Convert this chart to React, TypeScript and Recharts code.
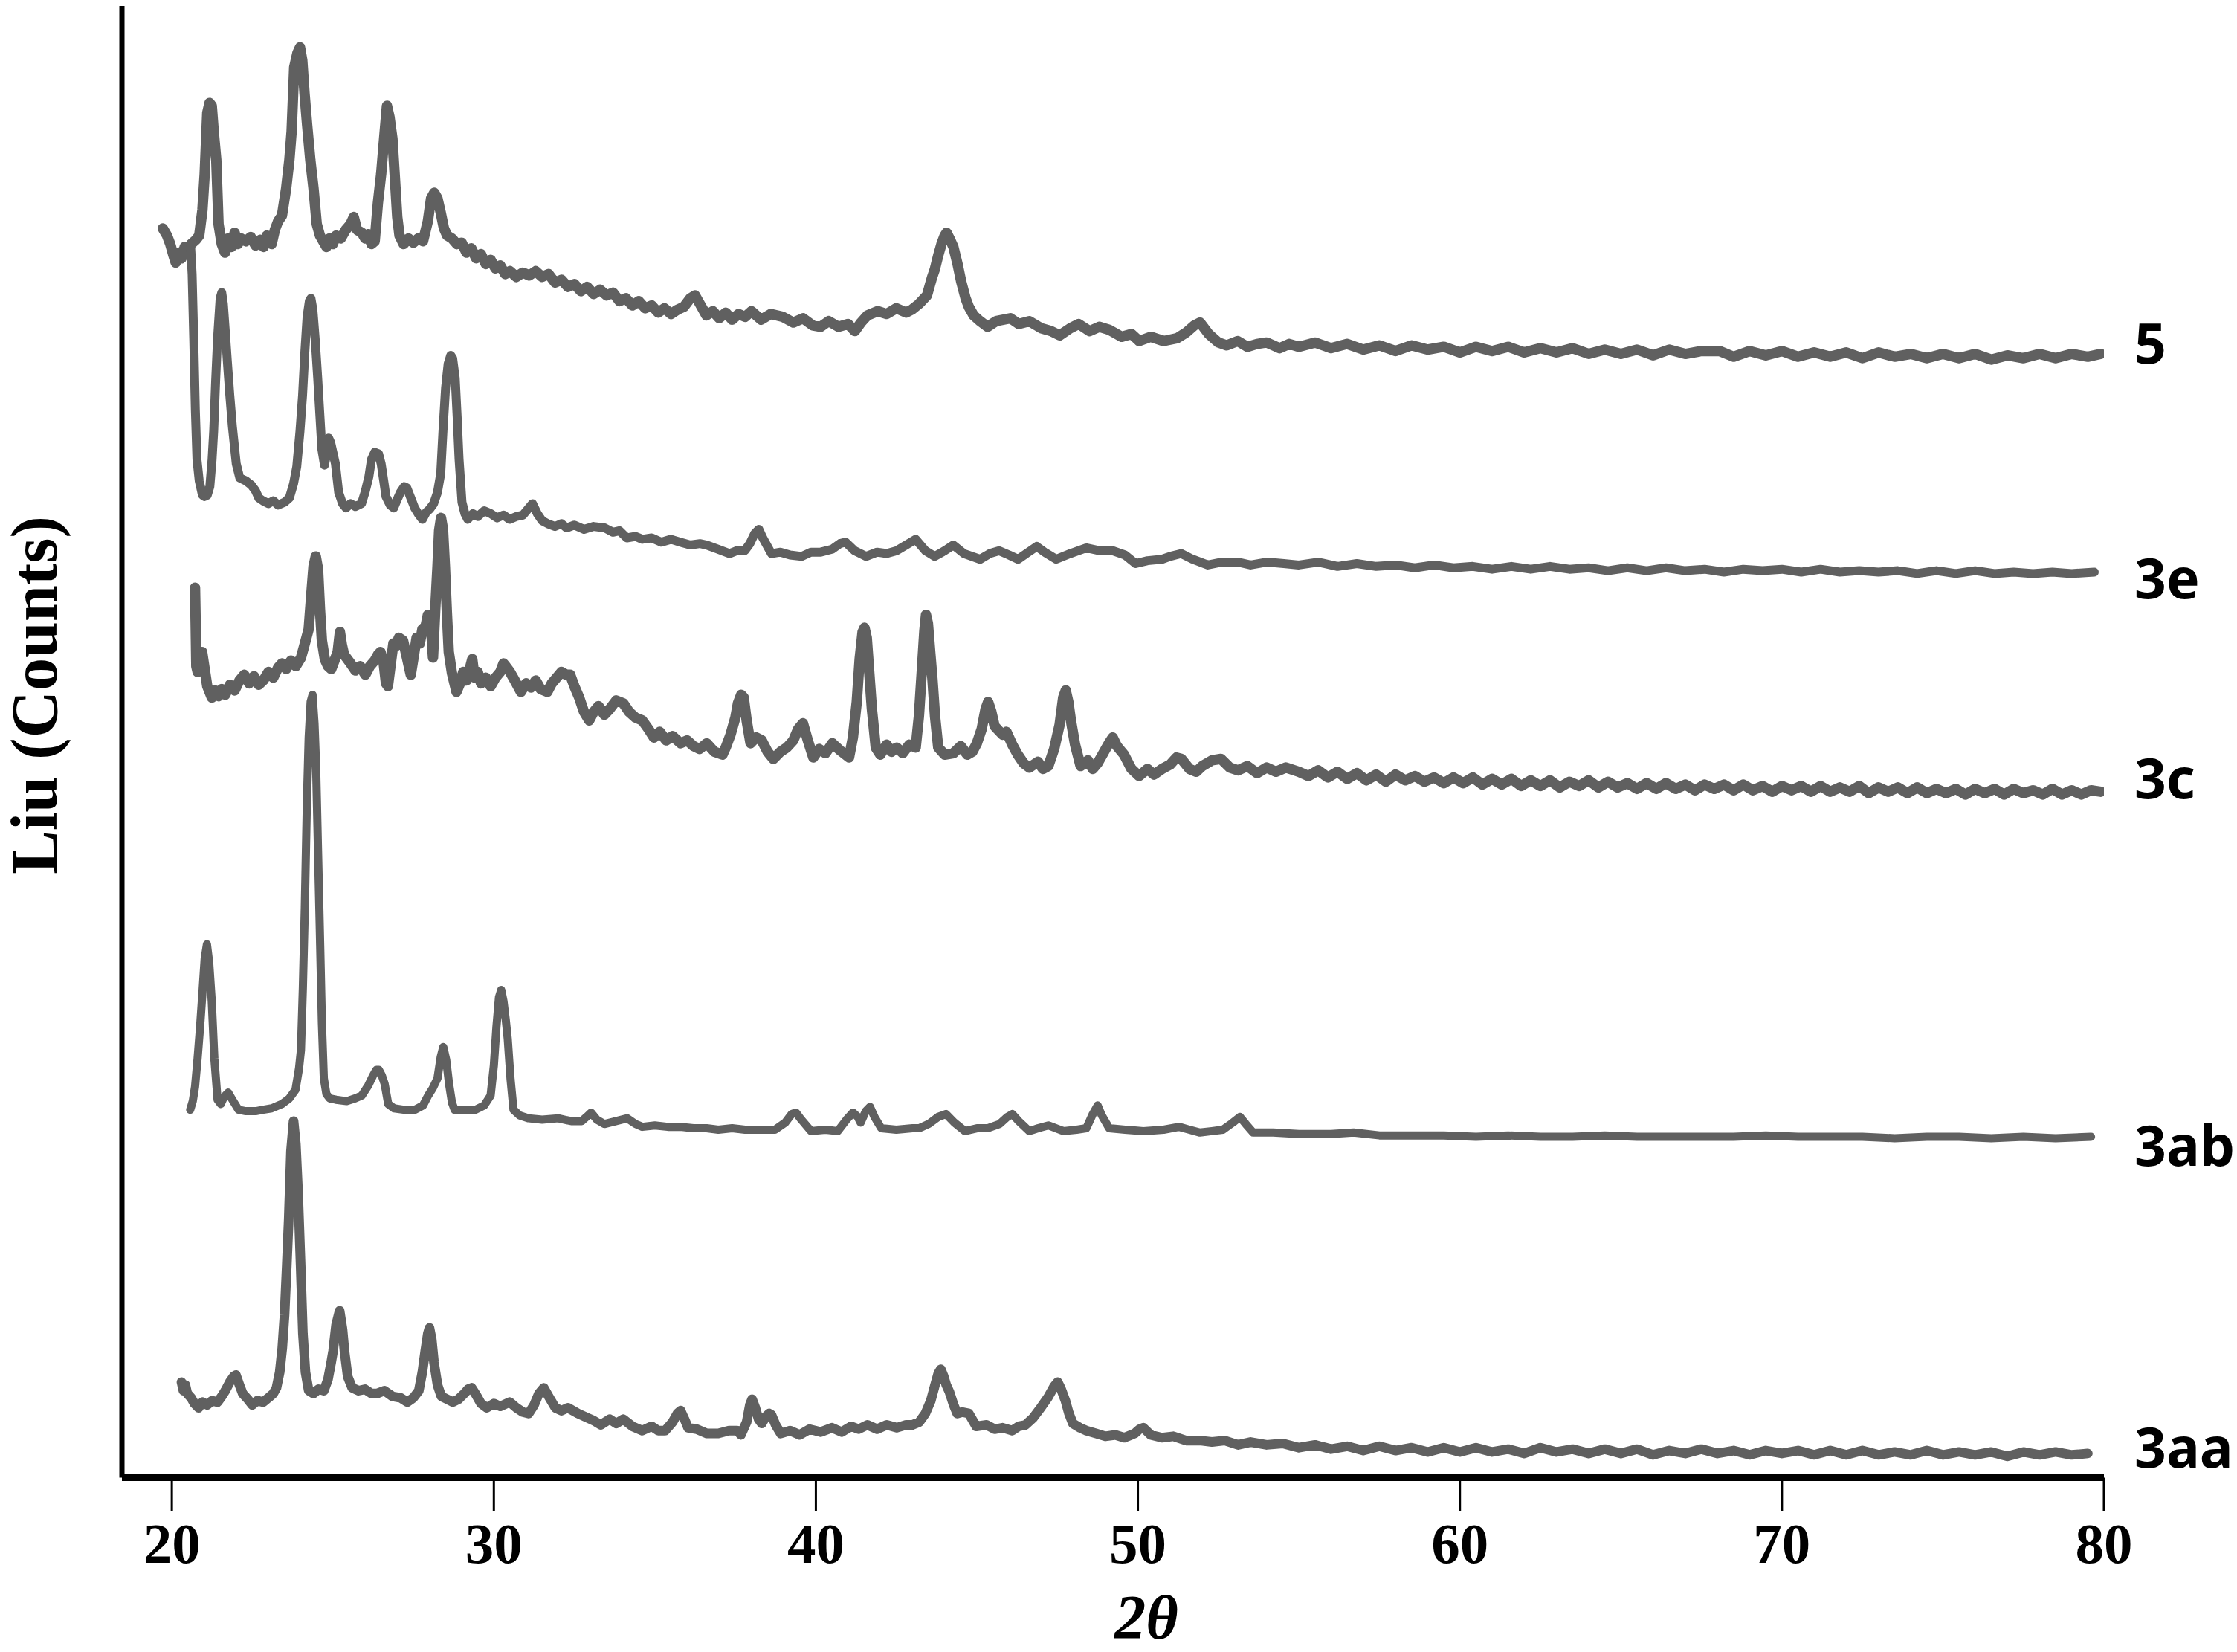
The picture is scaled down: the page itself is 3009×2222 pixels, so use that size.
import { LineChart, Line, XAxis, YAxis } from 'recharts'

// 2θ ticks along the bottom axis
const X_TICKS = [20, 30, 40, 50, 60, 70, 80]

// intensity (a.u.), [2θ, counts]
const PATTERN_5: [number, number][] = [
  [19.72, 877], [19.85, 872], [19.95, 866], [20.05, 858], [20.12, 853], [20.22, 860], [20.3, 856], [20.4, 864],
  [20.5, 862], [20.6, 866], [20.75, 869], [20.85, 872], [20.95, 890], [21.02, 915], [21.1, 958], [21.17, 965],
  [21.24, 963], [21.3, 945], [21.38, 925], [21.45, 880], [21.55, 866], [21.65, 860], [21.75, 870], [21.85, 864],
  [21.95, 874], [22.05, 866], [22.15, 870], [22.3, 868], [22.45, 871], [22.6, 865], [22.75, 869], [22.85, 864],
  [22.95, 872], [23.1, 866], [23.2, 876], [23.3, 882], [23.42, 886], [23.55, 905], [23.65, 925], [23.72, 945],
  [23.8, 990], [23.9, 1000], [23.98, 1004], [24.05, 995], [24.12, 972], [24.2, 950], [24.3, 925], [24.4, 905],
  [24.5, 880], [24.6, 872], [24.7, 868], [24.8, 864], [24.9, 870], [25.0, 866], [25.1, 872], [25.25, 870],
  [25.4, 876], [25.55, 880], [25.65, 885], [25.75, 876], [25.9, 874], [26.0, 870], [26.1, 873], [26.2, 866],
  [26.3, 868], [26.4, 895], [26.5, 915], [26.6, 942], [26.68, 963], [26.76, 955], [26.85, 940], [26.92, 915],
  [27.0, 885], [27.07, 872], [27.2, 866], [27.35, 870], [27.5, 867], [27.65, 870], [27.8, 868], [27.95, 882],
  [28.05, 898], [28.15, 902], [28.25, 898], [28.35, 888], [28.45, 877], [28.55, 872], [28.7, 870], [28.85, 866],
  [29.0, 867], [29.15, 860], [29.3, 863], [29.45, 856], [29.6, 859], [29.75, 852], [29.9, 855], [30.05, 849],
  [30.2, 851], [30.35, 845], [30.5, 847], [30.7, 843], [30.9, 846], [31.1, 844], [31.3, 847], [31.5, 843],
  [31.7, 845], [31.9, 839], [32.1, 841], [32.3, 836], [32.5, 838], [32.7, 833], [32.9, 836], [33.1, 831],
  [33.3, 834], [33.5, 830], [33.7, 832], [33.9, 826], [34.1, 828], [34.3, 823], [34.5, 826], [34.7, 821],
  [34.9, 823], [35.1, 818], [35.3, 821], [35.5, 817], [35.7, 820], [35.9, 822], [36.1, 828], [36.25, 830],
  [36.4, 824], [36.6, 816], [36.8, 819], [37.0, 814], [37.2, 818], [37.4, 813], [37.6, 817], [37.8, 815],
  [38.0, 819], [38.3, 813], [38.6, 817], [38.97, 815], [39.3, 811], [39.6, 814], [39.9, 809], [40.15, 808],
  [40.4, 812], [40.7, 808], [41.0, 810], [41.21, 805], [41.4, 811], [41.6, 816], [41.92, 819], [42.2, 817],
  [42.5, 821], [42.8, 818], [42.98, 820], [43.2, 824], [43.45, 830], [43.6, 842], [43.69, 848], [43.8, 858],
  [43.9, 866], [44.0, 872], [44.06, 874], [44.15, 870], [44.27, 864], [44.4, 852], [44.51, 840], [44.65, 828],
  [44.75, 822], [44.9, 816], [45.1, 812], [45.33, 808], [45.6, 812], [46.04, 814], [46.3, 810], [46.63, 812],
  [47.0, 807], [47.3, 805], [47.57, 802], [47.9, 807], [48.16, 810], [48.5, 805], [48.8, 808], [49.1, 806],
  [49.5, 801], [49.8, 803], [50.04, 798], [50.4, 801], [50.8, 798], [51.22, 800], [51.5, 804], [51.75, 809],
  [51.93, 811], [52.2, 803], [52.5, 797], [52.76, 795], [53.1, 798], [53.4, 794], [53.7, 796], [54.0, 797],
  [54.4, 793], [54.7, 796], [55.0, 794], [55.5, 797], [56.0, 793], [56.5, 796], [57.0, 792], [57.5, 795],
  [58.0, 791], [58.5, 795], [59.0, 792], [59.5, 794], [60.0, 790], [60.5, 794], [61.0, 791], [61.5, 794],
  [62.0, 790], [62.5, 793], [63.0, 790], [63.5, 793], [64.0, 789], [64.5, 792], [65.0, 789], [65.5, 792],
  [66.0, 788], [66.5, 792], [67.0, 789], [67.5, 791], [68.07, 791], [68.5, 787], [69.0, 791], [69.5, 788],
  [70.0, 791], [70.5, 787], [71.0, 790], [71.5, 787], [72.0, 790], [72.5, 786], [73.0, 790], [73.5, 787],
  [74.0, 789], [74.5, 786], [75.0, 789], [75.5, 786], [76.0, 789], [76.5, 785], [77.0, 788], [77.5, 786],
  [78.0, 789], [78.5, 786], [79.0, 789], [79.5, 787], [79.9, 789],
]

const PATTERN_3E: [number, number][] = [
  [20.58, 866], [20.63, 845], [20.68, 800], [20.73, 750], [20.78, 715], [20.85, 700], [20.95, 690], [21.02, 689],
  [21.1, 690], [21.18, 696], [21.25, 715], [21.3, 735], [21.36, 770], [21.42, 800], [21.5, 828], [21.55, 832],
  [21.6, 824], [21.66, 805], [21.72, 785], [21.8, 760], [21.88, 738], [22.0, 712], [22.11, 702], [22.3, 700],
  [22.47, 697], [22.6, 693], [22.7, 688], [22.83, 686], [23.0, 684], [23.15, 686], [23.3, 683], [23.5, 685],
  [23.65, 688], [23.78, 698], [23.88, 710], [23.98, 735], [24.06, 760], [24.13, 790], [24.2, 815], [24.27, 826],
  [24.32, 828], [24.38, 820], [24.45, 800], [24.53, 772], [24.6, 745], [24.66, 722], [24.74, 711], [24.8, 718],
  [24.87, 730], [24.93, 727], [25.0, 720], [25.08, 712], [25.18, 692], [25.3, 684], [25.41, 681], [25.55, 684],
  [25.7, 682], [25.89, 684], [26.0, 692], [26.12, 703], [26.2, 715], [26.3, 720], [26.42, 719], [26.5, 712],
  [26.58, 700], [26.65, 689], [26.78, 683], [26.89, 681], [27.0, 687], [27.1, 692], [27.22, 696], [27.3, 695],
  [27.42, 688], [27.54, 681], [27.65, 677], [27.78, 673], [27.9, 678], [28.0, 680], [28.13, 684], [28.25, 692],
  [28.35, 705], [28.42, 735], [28.5, 765], [28.58, 782], [28.66, 788], [28.72, 786], [28.8, 772], [28.86, 745],
  [28.92, 715], [29.01, 685], [29.1, 677], [29.19, 673], [29.35, 677], [29.5, 675], [29.7, 679], [29.9, 677],
  [30.1, 674], [30.3, 676], [30.49, 673], [30.7, 675], [30.9, 676], [31.05, 680], [31.2, 684], [31.35, 677],
  [31.5, 672], [31.67, 670], [31.9, 668], [32.1, 670], [32.26, 667], [32.5, 669], [32.8, 666], [33.1, 668],
  [33.44, 667], [33.7, 664], [33.9, 665], [34.13, 660], [34.4, 661], [34.61, 659], [34.9, 660], [35.2, 657],
  [35.5, 659], [35.79, 657], [36.1, 655], [36.4, 656], [36.61, 655], [36.97, 652], [37.32, 649], [37.55, 651],
  [37.79, 651], [37.95, 656], [38.1, 663], [38.23, 666], [38.35, 660], [38.62, 649], [38.9, 650], [39.2, 648],
  [39.56, 647], [39.85, 650], [40.15, 650], [40.5, 652], [40.75, 656], [40.92, 657], [41.2, 651], [41.56, 647],
  [41.9, 650], [42.2, 649], [42.51, 651], [42.8, 655], [43.1, 659], [43.4, 651], [43.69, 647], [44.0, 651],
  [44.27, 655], [44.6, 649], [45.1, 645], [45.4, 649], [45.69, 651], [46.0, 648], [46.28, 645], [46.6, 650],
  [46.86, 654], [47.1, 650], [47.46, 645], [47.9, 649], [48.4, 653], [48.8, 651], [49.22, 651], [49.6, 648],
  [49.93, 642], [50.3, 644], [50.75, 645], [51.0, 647], [51.35, 649], [51.7, 645], [52.17, 641], [52.6, 643],
  [53.11, 643], [53.5, 641], [54.0, 643], [54.53, 642], [55.0, 641], [55.6, 643], [56.2, 640], [56.8, 642],
  [57.4, 640], [58.0, 641], [58.6, 639], [59.2, 641], [59.8, 639], [60.4, 640], [61.0, 638], [61.6, 640],
  [62.2, 638], [62.8, 640], [63.4, 638], [64.0, 639], [64.6, 637], [65.2, 639], [65.8, 637], [66.4, 639],
  [67.0, 637], [67.6, 638], [68.2, 636], [68.8, 638], [69.4, 637], [70.0, 638], [70.6, 636], [71.2, 638],
  [71.8, 636], [72.4, 637], [73.0, 636], [73.6, 637], [74.2, 635], [74.8, 637], [75.4, 635], [76.0, 637],
  [76.6, 635], [77.2, 636], [77.8, 635], [78.4, 636], [79.0, 635], [79.7, 636],
]

const PATTERN_3C: [number, number][] = [
  [20.72, 625], [20.74, 600], [20.76, 570], [20.8, 566], [20.88, 575], [20.94, 580], [21.02, 568], [21.1, 556],
  [21.24, 548], [21.35, 553], [21.45, 549], [21.55, 554], [21.66, 550], [21.8, 557], [21.95, 553], [22.1, 560],
  [22.25, 564], [22.4, 558], [22.55, 563], [22.7, 557], [22.84, 560], [23.0, 566], [23.15, 562], [23.3, 569],
  [23.42, 572], [23.55, 568], [23.7, 574], [23.85, 570], [24.01, 576], [24.12, 585], [24.25, 596], [24.33, 620],
  [24.4, 640], [24.47, 647], [24.54, 638], [24.6, 610], [24.66, 588], [24.75, 575], [24.85, 570], [24.95, 568],
  [25.05, 574], [25.15, 580], [25.22, 594], [25.28, 585], [25.35, 578], [25.42, 576], [25.55, 572], [25.7, 567],
  [25.85, 570], [26.01, 564], [26.15, 570], [26.3, 574], [26.4, 578], [26.48, 580], [26.58, 572], [26.65, 558],
  [26.71, 556], [26.8, 572], [26.88, 586], [26.95, 584], [27.05, 590], [27.18, 588], [27.3, 576], [27.42, 564],
  [27.52, 578], [27.6, 590], [27.7, 586], [27.78, 596], [27.88, 598], [27.95, 606], [28.02, 604], [28.07, 590],
  [28.11, 576], [28.18, 610], [28.25, 640], [28.3, 665], [28.36, 674], [28.42, 666], [28.48, 640], [28.54, 608],
  [28.6, 580], [28.7, 565], [28.84, 552], [28.95, 558], [29.05, 566], [29.15, 560], [29.25, 568], [29.33, 575],
  [29.4, 562], [29.5, 566], [29.6, 558], [29.75, 562], [29.9, 556], [30.05, 562], [30.2, 566], [30.3, 572],
  [30.37, 570], [30.5, 566], [30.65, 560], [30.84, 552], [31.0, 558], [31.15, 555], [31.3, 560], [31.45, 554],
  [31.66, 552], [31.8, 558], [31.95, 562], [32.1, 566], [32.25, 564], [32.37, 564], [32.5, 556], [32.65, 548],
  [32.8, 538], [32.96, 532], [33.1, 538], [33.25, 542], [33.43, 536], [33.6, 540], [33.8, 546], [34.02, 544],
  [34.2, 538], [34.4, 534], [34.61, 532], [34.8, 526], [34.97, 520], [35.15, 524], [35.35, 518], [35.55, 521],
  [35.8, 516], [36.0, 518], [36.2, 514], [36.39, 512], [36.61, 516], [36.85, 510], [37.1, 508], [37.2, 513],
  [37.35, 522], [37.5, 534], [37.58, 544], [37.68, 550], [37.76, 548], [37.85, 532], [37.97, 516], [38.15, 520],
  [38.32, 518], [38.5, 510], [38.68, 505], [38.9, 510], [39.1, 513], [39.3, 518], [39.45, 526], [39.6, 530],
  [39.75, 518], [39.92, 506], [40.1, 512], [40.3, 509], [40.51, 516], [40.75, 511], [41.03, 506], [41.15, 520],
  [41.27, 545], [41.36, 575], [41.45, 594], [41.51, 597], [41.58, 590], [41.65, 568], [41.74, 540], [41.86, 513],
  [42.0, 508], [42.2, 515], [42.35, 510], [42.51, 513], [42.7, 509], [42.9, 515], [43.1, 513], [43.2, 535],
  [43.3, 570], [43.37, 595], [43.42, 606], [43.48, 600], [43.55, 580], [43.62, 561], [43.7, 535], [43.8, 513],
  [44.0, 508], [44.27, 509], [44.5, 514], [44.7, 508], [44.86, 510], [45.0, 516], [45.15, 526], [45.27, 540],
  [45.35, 545], [45.45, 538], [45.55, 528], [45.63, 526], [45.8, 522], [45.92, 524], [46.1, 515], [46.27, 508],
  [46.45, 502], [46.63, 499], [46.9, 503], [47.05, 498], [47.22, 500], [47.4, 512], [47.57, 529], [47.68, 548],
  [47.76, 553], [47.84, 545], [47.92, 532], [48.05, 515], [48.22, 500], [48.45, 504], [48.6, 498], [48.75, 502],
  [48.95, 510], [49.1, 516], [49.22, 520], [49.35, 514], [49.57, 508], [49.8, 498], [50.04, 493], [50.3, 498],
  [50.5, 494], [50.75, 498], [51.0, 501], [51.2, 506], [51.35, 505], [51.6, 498], [51.81, 496], [52.0, 500],
  [52.3, 504], [52.58, 505], [52.85, 499], [53.11, 497], [53.4, 500], [53.7, 495], [54.0, 499], [54.29, 496],
  [54.6, 499], [55.0, 496], [55.3, 493], [55.6, 497], [55.9, 492], [56.2, 496], [56.5, 491], [56.8, 495],
  [57.1, 490], [57.4, 494], [57.7, 489], [58.0, 494], [58.3, 490], [58.6, 493], [58.9, 489], [59.2, 492],
  [59.5, 488], [59.8, 492], [60.1, 488], [60.4, 492], [60.7, 487], [61.0, 491], [61.3, 487], [61.6, 491],
  [61.9, 486], [62.2, 490], [62.5, 486], [62.8, 490], [63.1, 485], [63.4, 489], [63.7, 486], [64.0, 490],
  [64.3, 485], [64.6, 489], [64.9, 485], [65.2, 488], [65.5, 484], [65.8, 488], [66.1, 484], [66.4, 488],
  [66.7, 484], [67.0, 487], [67.3, 483], [67.6, 487], [67.9, 484], [68.2, 487], [68.5, 483], [68.8, 487],
  [69.1, 483], [69.4, 486], [69.7, 482], [70.0, 486], [70.3, 483], [70.6, 486], [70.9, 482], [71.2, 486],
  [71.5, 482], [71.8, 485], [72.1, 482], [72.4, 486], [72.7, 481], [73.0, 485], [73.3, 482], [73.6, 485],
  [73.9, 481], [74.2, 485], [74.5, 481], [74.8, 484], [75.1, 481], [75.4, 484], [75.7, 480], [76.0, 484],
  [76.3, 481], [76.6, 484], [76.9, 480], [77.2, 484], [77.5, 481], [77.8, 483], [78.1, 480], [78.4, 484],
  [78.7, 480], [79.0, 483], [79.3, 480], [79.6, 483], [79.9, 482],
]

const PATTERN_3AB: [number, number][] = [
  [20.57, 259], [20.65, 265], [20.72, 275], [20.8, 295], [20.88, 318], [20.95, 341], [21.02, 365], [21.09, 375],
  [21.16, 362], [21.24, 335], [21.32, 295], [21.42, 266], [21.52, 263], [21.62, 268], [21.75, 271], [21.88, 266],
  [22.07, 259], [22.3, 258], [22.6, 258], [22.84, 259], [23.1, 260], [23.42, 263], [23.65, 267], [23.84, 273],
  [23.95, 288], [24.01, 301], [24.07, 345], [24.13, 401], [24.19, 470], [24.25, 520], [24.31, 545], [24.37, 550],
  [24.43, 530], [24.48, 500], [24.54, 440], [24.6, 381], [24.66, 320], [24.72, 281], [24.8, 270], [24.9, 267],
  [25.1, 266], [25.43, 265], [25.7, 267], [25.9, 269], [26.1, 276], [26.25, 283], [26.35, 287], [26.43, 287],
  [26.52, 283], [26.61, 277], [26.72, 263], [26.9, 260], [27.2, 259], [27.55, 259], [27.8, 262], [27.96, 269],
  [28.1, 274], [28.25, 281], [28.35, 296], [28.43, 303], [28.52, 294], [28.61, 277], [28.7, 264], [28.78, 259],
  [29.1, 259], [29.43, 259], [29.7, 262], [29.9, 269], [30.0, 290], [30.08, 317], [30.16, 338], [30.23, 343],
  [30.3, 335], [30.37, 322], [30.43, 309], [30.52, 280], [30.61, 259], [30.8, 255], [31.08, 253], [31.5, 252],
  [32.0, 253], [32.4, 251], [32.73, 251], [32.88, 254], [33.02, 257], [33.2, 252], [33.43, 249], [33.8, 251],
  [34.14, 253], [34.4, 249], [34.61, 247], [35.0, 248], [35.4, 247], [35.8, 247], [36.2, 246], [36.61, 246],
  [36.97, 245], [37.4, 246], [37.8, 245], [38.2, 245], [38.73, 245], [39.05, 250], [39.25, 256], [39.38, 257],
  [39.55, 252], [39.85, 244], [40.3, 245], [40.68, 244], [40.95, 252], [41.15, 257], [41.3, 254], [41.39, 250],
  [41.55, 258], [41.68, 261], [41.82, 254], [42.03, 246], [42.5, 245], [43.0, 246], [43.21, 246], [43.5, 249],
  [43.8, 254], [44.04, 256], [44.3, 250], [44.63, 244], [45.0, 246], [45.33, 246], [45.7, 249], [45.95, 254],
  [46.1, 256], [46.3, 251], [46.63, 244], [46.9, 246], [47.22, 248], [47.69, 244], [48.1, 245], [48.4, 246],
  [48.6, 256], [48.75, 262], [48.88, 255], [49.11, 246], [49.6, 245], [50.17, 244], [50.8, 245], [51.28, 247],
  [51.6, 245], [51.93, 243], [52.3, 244], [52.64, 245], [52.95, 250], [53.17, 254], [53.35, 249], [53.58, 243],
  [54.2, 243], [55.0, 242], [56.0, 242], [56.7, 243], [57.5, 241], [58.5, 241], [59.5, 241], [60.5, 240],
  [61.5, 241], [62.5, 240], [63.5, 240], [64.5, 241], [65.5, 240], [66.5, 240], [67.5, 240], [68.5, 240],
  [69.5, 241], [70.5, 240], [71.5, 240], [72.5, 240], [73.5, 239], [74.5, 240], [75.5, 240], [76.5, 239],
  [77.5, 240], [78.5, 239], [79.6, 240],
]

const PATTERN_3AA: [number, number][] = [
  [20.3, 68], [20.36, 62], [20.42, 66], [20.48, 60], [20.6, 57], [20.7, 53], [20.83, 50], [20.95, 54],
  [21.1, 52], [21.25, 55], [21.42, 54], [21.55, 58], [21.66, 62], [21.8, 68], [21.92, 72], [21.99, 73],
  [22.1, 66], [22.2, 60], [22.36, 56], [22.5, 52], [22.65, 55], [22.84, 54], [23.0, 57], [23.15, 60],
  [23.25, 64], [23.35, 75], [23.43, 92], [23.5, 115], [23.57, 150], [23.63, 182], [23.7, 230], [23.78, 251],
  [23.85, 235], [23.92, 201], [24.0, 150], [24.07, 102], [24.15, 75], [24.25, 62], [24.4, 60], [24.55, 63],
  [24.72, 62], [24.85, 70], [24.95, 82], [25.01, 90], [25.1, 108], [25.21, 118], [25.3, 105], [25.36, 90],
  [25.46, 72], [25.6, 64], [25.8, 62], [26.0, 63], [26.2, 60], [26.37, 60], [26.6, 62], [26.85, 58],
  [27.1, 57], [27.31, 54], [27.5, 57], [27.67, 62], [27.78, 75], [27.87, 90], [27.95, 102], [28.0, 106],
  [28.07, 98], [28.14, 82], [28.25, 66], [28.37, 58], [28.55, 56], [28.73, 54], [28.9, 56], [29.08, 60],
  [29.2, 63], [29.31, 64], [29.45, 59], [29.6, 53], [29.78, 50], [30.0, 53], [30.2, 51], [30.49, 54],
  [30.7, 50], [30.9, 47], [31.08, 46], [31.25, 52], [31.4, 60], [31.55, 64], [31.7, 58], [31.91, 50],
  [32.1, 48], [32.3, 50], [32.61, 46], [32.9, 43], [33.1, 41], [33.32, 38], [33.6, 42], [33.8, 39],
  [34.02, 42], [34.3, 37], [34.61, 34], [34.9, 37], [35.1, 34], [35.32, 34], [35.55, 40], [35.7, 46],
  [35.8, 48], [35.92, 42], [36.03, 36], [36.3, 35], [36.61, 32], [36.97, 32], [37.3, 34], [37.56, 34],
  [37.67, 31], [37.85, 40], [37.95, 52], [38.02, 56], [38.12, 50], [38.22, 42], [38.32, 39], [38.45, 44],
  [38.55, 46], [38.62, 45], [38.75, 38], [38.91, 32], [39.2, 34], [39.5, 31], [39.8, 35], [40.15, 33],
  [40.5, 36], [40.8, 33], [41.1, 37], [41.33, 35], [41.6, 38], [41.9, 35], [42.2, 38], [42.51, 36],
  [42.8, 38], [43.0, 38], [43.21, 40], [43.4, 46], [43.57, 55], [43.7, 66], [43.8, 74], [43.88, 77],
  [43.97, 72], [44.05, 66], [44.15, 61], [44.28, 52], [44.39, 46], [44.55, 47], [44.75, 46], [44.98, 37],
  [45.3, 38], [45.55, 35], [45.8, 36], [46.1, 34], [46.3, 37], [46.51, 38], [46.75, 43], [46.98, 50],
  [47.2, 57], [47.4, 65], [47.51, 68], [47.6, 64], [47.75, 55], [47.86, 46], [47.98, 39], [48.2, 36],
  [48.4, 34], [48.7, 32], [48.99, 30], [49.3, 31], [49.58, 29], [49.9, 32], [50.05, 35], [50.17, 36],
  [50.4, 31], [50.75, 29], [51.1, 30], [51.5, 27], [51.93, 27], [52.3, 26], [52.7, 27], [53.11, 24],
  [53.5, 26], [54.0, 24], [54.5, 25], [55.0, 22], [55.5, 24], [56.0, 21], [56.5, 23], [57.0, 20],
  [57.5, 23], [58.0, 20], [58.5, 22], [59.0, 19], [59.5, 22], [60.0, 19], [60.5, 22], [61.0, 19],
  [61.5, 21], [62.0, 18], [62.5, 22], [63.0, 19], [63.5, 21], [64.0, 18], [64.5, 21], [65.0, 18],
  [65.5, 21], [66.0, 17], [66.5, 20], [67.0, 18], [67.5, 21], [68.0, 18], [68.5, 20], [69.0, 17],
  [69.5, 20], [70.0, 18], [70.5, 20], [71.0, 17], [71.5, 20], [72.0, 17], [72.5, 20], [73.0, 17],
  [73.5, 19], [74.0, 17], [74.5, 20], [75.0, 17], [75.5, 19], [76.0, 17], [76.5, 19], [77.0, 16],
  [77.5, 19], [78.0, 17], [78.5, 19], [79.0, 17], [79.5, 18],
]

// noisy scans read as a thicker band than the clean ones
const SERIES = [
  { name: '5', points: PATTERN_5, width: 14 },
  { name: '3e', points: PATTERN_3E, width: 12 },
  { name: '3c', points: PATTERN_3C, width: 14 },
  { name: '3ab', points: PATTERN_3AB, width: 11 },
  { name: '3aa', points: PATTERN_3AA, width: 13 },
]

// where each sample name sits at the right edge
const LABEL_BASELINES = [489, 805, 1074, 1568, 1974]

const TRACE = '#606060'
const SERIF = '"Liberation Serif", "Times New Roman", serif'

const toRows = (pts: [number, number][]) => pts.map(([x, y]) => ({ x, y }))

function XTick(props: any) {
  const { x, y, payload } = props
  return (
    <text
      x={x}
      y={y}
      dy={54}
      textAnchor="middle"
      fontFamily={SERIF}
      fontWeight="bold"
      fontSize={77}
      fill="#000"
    >
      {payload.value}
    </text>
  )
}

export default function App() {
  return (
    <div style={{ position: 'absolute', left: 0, top: 0, width: 3009, height: 2222, background: '#fff' }}>
      <LineChart width={3009} height={2222} margin={{ top: 8, right: 179, bottom: 0, left: 104 }}>
        <XAxis
          dataKey="x"
          type="number"
          domain={[18.45, 80]}
          ticks={X_TICKS}
          allowDataOverflow
          height={234.5}
          axisLine={{ stroke: '#000', strokeWidth: 9 }}
          tickLine={{ stroke: '#000', strokeWidth: 3 }}
          tickSize={45}
          tickMargin={15}
          tick={<XTick />}
        />
        <YAxis
          type="number"
          domain={[1, 1033]}
          allowDataOverflow
          width={60}
          tick={false}
          tickLine={false}
          axisLine={{ stroke: '#000', strokeWidth: 7 }}
        />
        {SERIES.map((s) => (
          <Line
            key={s.name}
            data={toRows(s.points)}
            dataKey="y"
            type="linear"
            stroke={TRACE}
            strokeWidth={s.width}
            strokeLinejoin="round"
            strokeLinecap="round"
            dot={false}
            activeDot={false}
            isAnimationActive={false}
          />
        ))}
        {SERIES.map((s, i) => (
          <text
            key={'lbl' + s.name}
            x={2871}
            y={LABEL_BASELINES[i]}
            fontFamily='"Noto Sans", sans-serif'
            fontWeight="bold"
            fontSize={75}
            fill="#000"
          >
            {s.name}
          </text>
        ))}
        <text
          transform="translate(76, 935) rotate(-90)"
          textAnchor="middle"
          fontFamily={SERIF}
          fontWeight="bold"
          fontSize={88}
          fill="#000"
        >
          Liu (Counts)
        </text>
        <text
          x={1542}
          y={2204}
          textAnchor="middle"
          fontFamily={SERIF}
          fontWeight="bold"
          fontStyle="italic"
          fontSize={84}
          fill="#000"
        >
          2θ
        </text>
      </LineChart>
    </div>
  )
}
